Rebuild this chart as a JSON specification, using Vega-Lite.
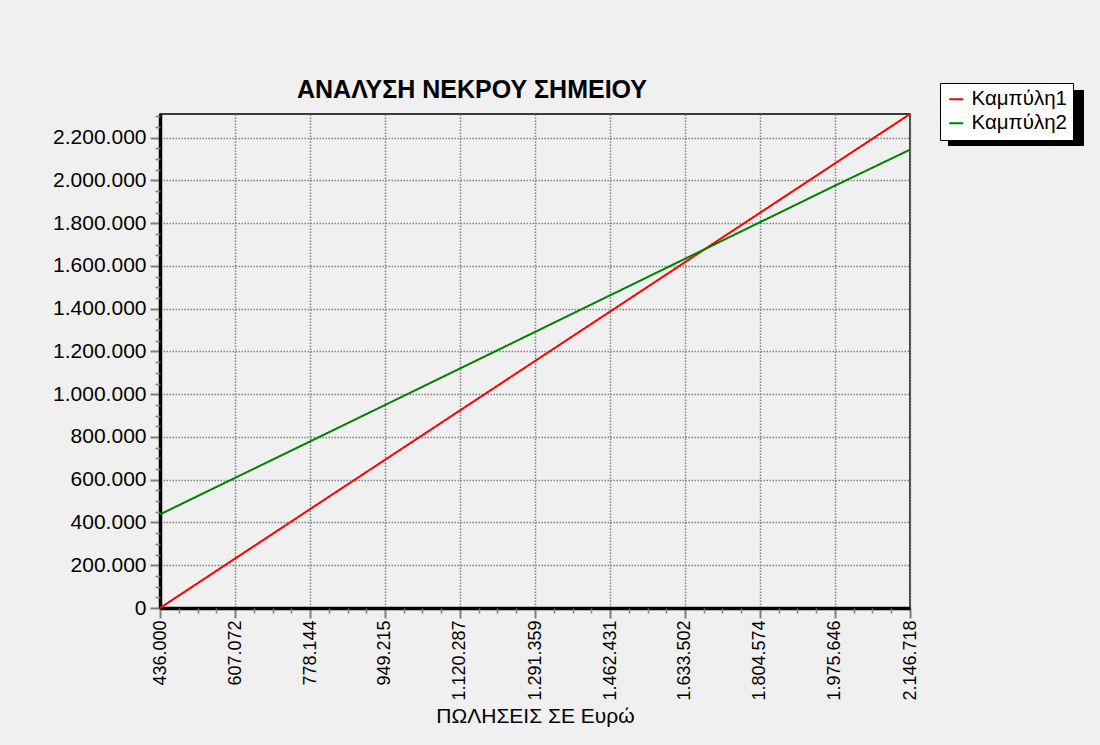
{
  "$schema": "https://vega.github.io/schema/vega-lite/v6.json",
  "width": 750,
  "height": 494,
  "autosize": {"type": "none"},
  "padding": {"left": 160, "top": 114, "right": 190, "bottom": 137},
  "background": "#f0f0f0",
  "config": {
    "locale": {"number": {"decimal": ",", "thousands": ".", "grouping": [3], "currency": ["", " €"]}},
    "font": "Liberation Sans",
    "view": {"fill": "#f0f0f0", "stroke": "#000000", "strokeWidth": 1.5}
  },
  "title": {
    "text": "ΑΝΑΛΥΣΗ ΝΕΚΡΟΥ ΣΗΜΕΙΟΥ",
    "anchor": "start",
    "frame": "group",
    "dx": 137,
    "dy": 57,
    "offset": 17,
    "baseline": "alphabetic",
    "font": "Liberation Sans",
    "fontSize": 25,
    "fontWeight": "bold",
    "color": "#000000"
  },
  "data": {
    "values": [
      {"x": 436000, "v": 0, "series": "Καμπύλη1"},
      {"x": 607072, "v": 231085, "series": "Καμπύλη1"},
      {"x": 778144, "v": 462170, "series": "Καμπύλη1"},
      {"x": 949215, "v": 693254, "series": "Καμπύλη1"},
      {"x": 1120287, "v": 924339, "series": "Καμπύλη1"},
      {"x": 1291359, "v": 1155424, "series": "Καμπύλη1"},
      {"x": 1462431, "v": 1386509, "series": "Καμπύλη1"},
      {"x": 1633502, "v": 1617594, "series": "Καμπύλη1"},
      {"x": 1804574, "v": 1848678, "series": "Καμπύλη1"},
      {"x": 1975646, "v": 2079763, "series": "Καμπύλη1"},
      {"x": 2146718, "v": 2310848, "series": "Καμπύλη1"},
      {"x": 436000, "v": 438000, "series": "Καμπύλη2"},
      {"x": 607072, "v": 608500, "series": "Καμπύλη2"},
      {"x": 778144, "v": 779000, "series": "Καμπύλη2"},
      {"x": 949215, "v": 949500, "series": "Καμπύλη2"},
      {"x": 1120287, "v": 1120287, "series": "Καμπύλη2"},
      {"x": 1291359, "v": 1291359, "series": "Καμπύλη2"},
      {"x": 1462431, "v": 1462431, "series": "Καμπύλη2"},
      {"x": 1633502, "v": 1633502, "series": "Καμπύλη2"},
      {"x": 1804574, "v": 1804574, "series": "Καμπύλη2"},
      {"x": 1975646, "v": 1975646, "series": "Καμπύλη2"},
      {"x": 2146718, "v": 2144000, "series": "Καμπύλη2"}
    ]
  },
  "resolve": {"axis": {"x": "independent", "y": "independent"}},
  "layer": [
    {
      "mark": {"type": "point", "opacity": 0},
      "encoding": {
        "x": {
          "field": "x", "type": "quantitative",
          "scale": {"domain": [436000, 2146718], "nice": false, "zero": false},
          "axis": {
            "orient": "bottom",
            "values": [478768, 521536, 564304, 649840, 692608, 735376, 820912, 863680, 906448, 991983, 1034751, 1077519, 1163055, 1205823, 1248591, 1334127, 1376895, 1419663, 1505199, 1547967, 1590735, 1676270, 1719038, 1761806, 1847342, 1890110, 1932878, 2018414, 2061182, 2103950],
            "labels": false, "domain": false, "grid": false, "title": null,
            "tickSize": 5, "tickWidth": 1.5, "tickColor": "#7f7f7f", "zindex": 1
          }
        },
        "y": {
          "field": "v", "type": "quantitative",
          "scale": {"domain": [0, 2310848], "nice": false, "zero": true},
          "axis": {
            "orient": "left",
            "values": [50000, 100000, 150000, 250000, 300000, 350000, 450000, 500000, 550000, 650000, 700000, 750000, 850000, 900000, 950000, 1050000, 1100000, 1150000, 1250000, 1300000, 1350000, 1450000, 1500000, 1550000, 1650000, 1700000, 1750000, 1850000, 1900000, 1950000, 2050000, 2100000, 2150000, 2250000, 2300000],
            "labels": false, "domain": false, "grid": false, "title": null,
            "tickSize": 5, "tickWidth": 1.5, "tickColor": "#7f7f7f", "zindex": 1
          }
        }
      }
    },
    {
      "mark": {"type": "line", "strokeWidth": 2},
      "encoding": {
        "x": {
          "field": "x", "type": "quantitative",
          "axis": {
            "orient": "bottom",
            "values": [436000, 607072, 778144, 949215, 1120287, 1291359, 1462431, 1633502, 1804574, 1975646, 2146718],
            "format": ",d",
            "labelAngle": -90,
            "labelAlign": "right",
            "labelBaseline": "middle",
            "labelFont": "Liberation Sans",
            "labelFontSize": 18,
            "labelColor": "#000000",
            "labelPadding": 2,
            "labelFlush": false,
            "labelOverlap": false,
            "domain": true, "domainColor": "#000000", "domainWidth": 3.5,
            "ticks": true, "tickSize": 10, "tickWidth": 2, "tickColor": "#7f7f7f",
            "grid": true, "gridColor": "#808080", "gridDash": [1.5, 1.5], "gridWidth": 1.5,
            "title": "ΠΩΛΗΣΕΙΣ ΣΕ Ευρώ",
            "titleFont": "Liberation Sans", "titleFontSize": 21, "titleFontWeight": "normal",
            "titleColor": "#000000", "titleBaseline": "alphabetic", "titleY": 114,
            "zindex": 0
          }
        },
        "y": {
          "field": "v", "type": "quantitative",
          "axis": {
            "orient": "left",
            "values": [0, 200000, 400000, 600000, 800000, 1000000, 1200000, 1400000, 1600000, 1800000, 2000000, 2200000],
            "format": ",d",
            "labelFont": "Liberation Sans",
            "labelFontSize": 21,
            "labelColor": "#000000",
            "labelPadding": 4,
            "labelFlush": false,
            "labelOverlap": false,
            "domain": true, "domainColor": "#000000", "domainWidth": 3.5,
            "ticks": true, "tickSize": 10, "tickWidth": 2, "tickColor": "#7f7f7f",
            "grid": true, "gridColor": "#808080", "gridDash": [1.5, 1.5], "gridWidth": 1.5,
            "title": null,
            "zindex": 0
          }
        },
        "color": {
          "field": "series", "type": "nominal",
          "scale": {"range": ["#ff0000", "#008000"]},
          "legend": {
            "orient": "none", "legendX": 780, "legendY": -31,
            "title": null,
            "fillColor": "#ffffff", "strokeColor": "#000000",
            "padding": 6,
            "symbolType": "stroke", "symbolSize": 200, "symbolStrokeWidth": 2,
            "labelFont": "Liberation Sans", "labelFontSize": 20.5, "labelColor": "#000000",
            "labelOffset": 5, "rowPadding": 3,
            "zindex": 2
          }
        },
        "strokeDash": {
          "field": "series", "type": "nominal",
          "scale": {"domain": ["Καμπύλη1", "Καμπύλη2"], "range": [[1, 0], [1, 0]]},
          "legend": {
            "orient": "none", "legendX": 788, "legendY": -24,
            "title": null,
            "fillColor": "#000000", "strokeColor": "#000000",
            "padding": 6,
            "symbolType": "stroke", "symbolSize": 200, "symbolStrokeWidth": 2,
            "symbolStrokeColor": "#000000",
            "labelFont": "Liberation Sans", "labelFontSize": 1, "labelColor": "#000000",
            "labelOffset": 101, "rowPadding": 17,
            "zindex": 1
          }
        }
      }
    }
  ]
}
